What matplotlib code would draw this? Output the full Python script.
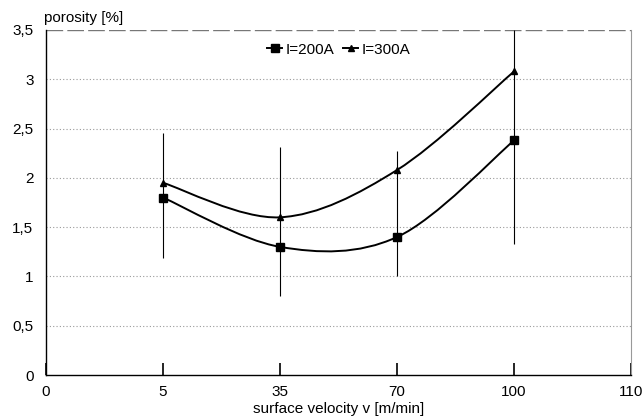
import matplotlib
matplotlib.use("Agg")
import matplotlib.pyplot as plt
from matplotlib.path import Path
from matplotlib.patches import PathPatch

plt.rcParams['font.family'] = ['Liberation Sans', 'DejaVu Sans']

# x axis is categorical: equally spaced ticks
tick_labels = ['0', '5', '35', '70', '100', '110']
velocity = ['5', '35', '70', '100']
por_200 = [1.80, 1.30, 1.40, 2.38]
por_300 = [1.95, 1.60, 2.08, 3.08]
err_low = [1.19, 0.80, 1.00, 1.33]
err_high = [2.46, 2.31, 2.27, 3.50]
y_ticks = [0, 0.5, 1, 1.5, 2, 2.5, 3, 3.5]
y_labels = ['0', '0,5', '1', '1,5', '2', '2,5', '3', '3,5']

FS = 11


def smooth_path(xs, ys):
    # Excel-style smoothed line: bezier segments, catmull-rom control points
    pts = list(zip(xs, ys))
    verts = [pts[0]]
    codes = [Path.MOVETO]
    n = len(pts)
    for i in range(n - 1):
        p0 = pts[i - 1] if i > 0 else pts[i]
        p1 = pts[i]
        p2 = pts[i + 1]
        p3 = pts[i + 2] if i + 2 < n else pts[i + 1]
        c1 = (p1[0] + (p2[0] - p0[0]) / 6, p1[1] + (p2[1] - p0[1]) / 6)
        c2 = (p2[0] - (p3[0] - p1[0]) / 6, p2[1] - (p3[1] - p1[1]) / 6)
        verts += [c1, c2, p2]
        codes += [Path.CURVE4] * 3
    return Path(verts, codes)


fig = plt.figure(figsize=(6.44, 4.2), dpi=100)
ax = fig.add_axes([0.0714, 0.107, 0.9086, 0.8216])

xpos = [tick_labels.index(v) for v in velocity]

# grid
for yv in y_ticks[1:-1]:
    ax.axhline(yv, color='#999999', lw=0.8, ls=(0, (1, 2)), zorder=0)
ax.axhline(3.5, color='#777777', lw=1.0, ls=(0, (12, 3)), zorder=0)

# error bars
ax.vlines(xpos, err_low, err_high, color='black', lw=0.8, zorder=2)

# smoothed curves
for ys in (por_200, por_300):
    ax.add_patch(PathPatch(smooth_path(xpos, ys), facecolor='none',
                           edgecolor='black', lw=1.4, zorder=3))

ax.plot(xpos, por_200, ls='none', marker='s', ms=6, color='black', zorder=4)
ax.plot(xpos, por_300, ls='none', marker='^', ms=5, color='black', zorder=4)

# legend handles
h1, = ax.plot([], [], '-s', color='black', lw=1.4, ms=6, label='I=200A')
h2, = ax.plot([], [], '-^', color='black', lw=1.4, ms=5, label='I=300A')
ax.legend(handles=[h1, h2], loc='upper center', bbox_to_anchor=(0.5, 0.99),
          ncol=2, frameon=False, fontsize=FS, handlelength=1.0,
          handletextpad=0.2, columnspacing=0.6, borderaxespad=0.2)

ax.set_xlim(0, 5)
ax.set_ylim(0, 3.5)
ax.set_xticks(range(len(tick_labels)))
ax.set_xticklabels(tick_labels, fontsize=FS)
ax.set_yticks(y_ticks)
ax.set_yticklabels(y_labels, fontsize=FS)
ax.tick_params(axis='x', direction='in', length=9, width=1.2, pad=7)
ax.tick_params(axis='y', length=0, pad=9)

ax.spines['top'].set_visible(False)
ax.spines['right'].set_color('#999999')
ax.spines['left'].set_color('black')
ax.spines['bottom'].set_color('black')
ax.spines['left'].set_linewidth(1.0)
ax.spines['bottom'].set_linewidth(1.0)

fig.text(0.068, 0.94, 'porosity [%]', fontsize=FS, ha='left', va='bottom')
ax.set_xlabel('surface velocity v [m/min]', fontsize=FS, labelpad=2.5)

fig.savefig('out.png', dpi=100)
